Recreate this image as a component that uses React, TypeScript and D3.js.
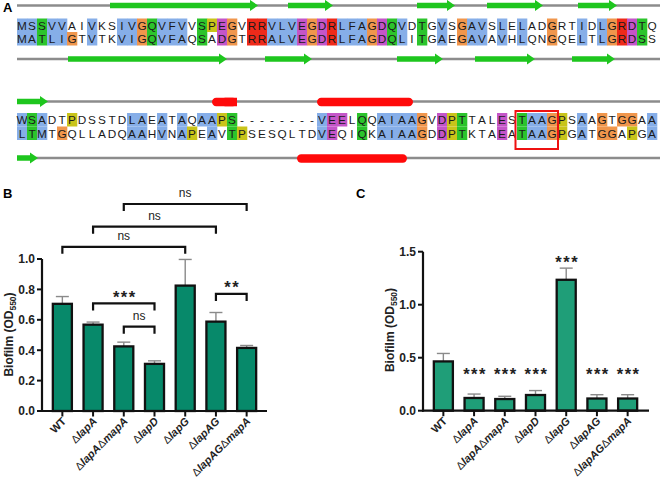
import React from "react";
import * as d3 from "d3";

// ---------- Panel A data ----------
const seqRow1 = "MSSVVAIVKSIVGQVFVVSPEGVRRVLVEGDRLFAGDQVDTGVSGAVSLELADGRTIDLGRDTQ";
const seqRow2 = "MATLIGTVTKVIGQVFAQSADGTRRALVEGDRLFAGDQLITGAEGAVAVHLQNGQELTLGRDSS";
const seqRow3 = "WSADTPDSSTDLAEATAQAAPS--------VEELQQAIAAGVDPTTALESTAAGPSAAGTGGAA";
const seqRow4 = "LTMTGQLLADQAAHVNAPEAVTPSESQLTDVEQIQKAIAAGDDPTKTAEATAAGPGATGGAPGA";

const clrRow1 = "bbgbb..b.." + "bbogbbb.gy" + "mo.rrbbbmo" + "mrbbbomgb." + "g.b.obb.b." + "b..o..b.bo" + "rmg.";
const clrRow2 = "bbgbbo.b.." + "bbogbbb.g." + "mo.rrbbbmo" + "mrbbbomgb." + "g.b.obb.b." + "b..o..b.bo" + "rmg.";
const clrRow3 = "bgb..y...." + ".bb.b.b.bb" + "yg........" + "bmm.g.bbbb" + "o.myg...m." + "gbboy.b.o." + "oo.b";
const clrRow4 = "bgb.o....." + ".bb.b.by.b" + ".gy......." + "bm..g.bbbb" + "o.myg...m." + "gbboy.b.oo" + ".y.b";

// secondary structure (residue boundaries, 0-based)
const ssTop1 = [
  { t: "E", s: 9.3, e: 24.1 },
  { t: "E", s: 27.1, e: 31.6 },
  { t: "E", s: 40, e: 43.8 },
  { t: "E", s: 47, e: 52.6 },
  { t: "E", s: 56.1, e: 60 },
];
const ssBot1 = [
  { t: "E", s: 5.1, e: 21 },
  { t: "E", s: 24.8, e: 29.5 },
  { t: "E", s: 38, e: 42.6 },
  { t: "E", s: 45.8, e: 51.8 },
  { t: "E", s: 55.5, e: 59.8 },
];
const ssTop2 = [
  { t: "E", s: 0, e: 3.1 },
  { t: "Hl", s: 19.5, e: 22 },
  { t: "H", s: 30, e: 39.6 },
];
const ssBot2 = [
  { t: "E", s: 0, e: 2.1 },
  { t: "H", s: 28, e: 39 },
];
const boxRange = [50, 54];

// ---------- Panels B, C data ----------
const strains = ["WT", "ΔlapA", "ΔlapAΔmapA", "ΔlapD", "ΔlapG", "ΔlapAG", "ΔlapAGΔmapA"];
const biofilmB = [0.705, 0.568, 0.425, 0.31, 0.825, 0.588, 0.415];
const errB = [0.048, 0.017, 0.028, 0.02, 0.172, 0.06, 0.016];
const ticksB = [0, 0.2, 0.4, 0.6, 0.8, 1.0];
const sigB = [
  { a: 2, b: 6, y: 1.362, label: "ns" },
  { a: 1, b: 5, y: 1.2125, label: "ns" },
  { a: 0, b: 4, y: 1.08, label: "ns" },
  { a: 1, b: 3, y: 0.708, label: "***" },
  { a: 2, b: 3, y: 0.555, label: "ns" },
  { a: 5, b: 6, y: 0.77, label: "**" },
];

const biofilmC = [0.465, 0.12, 0.11, 0.148, 1.235, 0.115, 0.115];
const errC = [0.075, 0.037, 0.026, 0.042, 0.11, 0.036, 0.036];
const ticksC = [0, 0.5, 1.0, 1.5];
const starsC = [
  { i: 1, y: 0.384 },
  { i: 2, y: 0.384 },
  { i: 3, y: 0.384 },
  { i: 4, y: 1.445 },
  { i: 5, y: 0.384 },
  { i: 6, y: 0.384 },
];

const FONT = "'Liberation Sans', Arial, Helvetica, sans-serif";
const colorMap: Record<string, string> = {
  b: "#86aee8",
  g: "#2cc42c",
  o: "#f0964c",
  m: "#c455c8",
  r: "#ee2a1a",
  y: "#c9c41a",
};

const xRes = d3.scaleLinear().domain([0, 64]).range([17, 657]);
const cellW = xRes(1) - xRes(0);

function SeqRow({ seq, clr, y, h }: { seq: string; clr: string; y: number; h: number }) {
  return (
    <g>
      {seq.split("").map((ch, i) => {
        const c = clr[i];
        return (
          <g key={i}>
            {c !== "." && colorMap[c] ? (
              <rect x={xRes(i)} y={y} width={cellW + 0.3} height={h} fill={colorMap[c]} />
            ) : null}
            <text
              x={xRes(i) + cellW / 2}
              y={y + h / 2 + 4.3}
              textAnchor="middle"
              fontSize={11.8}
              fontFamily={FONT}
              fill="#1a1a1a"
            >
              {ch}
            </text>
          </g>
        );
      })}
    </g>
  );
}

function SSLine({ items, y }: { items: { t: string; s: number; e: number }[]; y: number }) {
  return (
    <g>
      <line x1={xRes(0)} x2={660} y1={y} y2={y} stroke="#8c8c8c" strokeWidth={2.6} />
      {items.map((it, i) => {
        const x0 = xRes(it.s);
        const x1 = xRes(it.e);
        if (it.t === "E") {
          const hl = 8;
          const bh = 2.8;
          const ah = 5.6;
          const d = `M${x0},${y - bh}L${x1 - hl},${y - bh}L${x1 - hl},${y - ah}L${x1},${y}L${x1 - hl},${y + ah}L${x1 - hl},${y + bh}L${x0},${y + bh}Z`;
          return <path key={i} d={d} fill="#1ec61e" />;
        }
        const hh = 8.5;
        return (
          <g key={i}>
            <rect x={x0} y={y - hh / 2 + 0.5} width={x1 - x0} height={hh} rx={4.2} fill="#ff0a0a" />
            {it.t === "Hl" ? (
              <rect x={(x0 + x1) / 2} y={y - hh / 2 + 0.5} width={(x1 - x0) / 2} height={hh} fill="#ff0a0a" />
            ) : null}
          </g>
        );
      })}
    </g>
  );
}

function GeneLabel({ name }: { name: string }) {
  if (!name.includes("Δ")) return <>{name}</>;
  const parts: React.ReactNode[] = [];
  name.split("Δ").forEach((p, i) => {
    if (i > 0)
      parts.push(
        <tspan key={"d" + i} fontWeight="normal">
          Δ
        </tspan>
      );
    if (p)
      parts.push(
        <tspan key={"g" + i} fontStyle="italic">
          {p}
        </tspan>
      );
  });
  return <>{parts}</>;
}

function BarPanel(props: {
  values: number[];
  errs: number[];
  ticks: number[];
  yMax: number;
  yRange: [number, number];
  xRange: [number, number];
  axisX: number;
  axisEnd: number;
  fill: string;
  titleX: number;
  titleY: number;
}) {
  const { values, errs, ticks, yMax, yRange, xRange, axisX, axisEnd, fill, titleX, titleY } = props;
  const y = d3.scaleLinear().domain([0, yMax]).range(yRange);
  const x = d3.scaleBand<string>().domain(strains).range(xRange).paddingInner(0.38).paddingOuter(0.19);
  const y0 = y(0);
  return (
    <g fontFamily={FONT}>
      {strains.map((s, i) => {
        const bx = x(s)!;
        const bw = x.bandwidth();
        const cx = bx + bw / 2;
        const top = y(values[i]);
        const et = y(values[i] + errs[i]);
        return (
          <g key={s}>
            <line x1={cx} x2={cx} y1={top} y2={et} stroke="#8a8a8a" strokeWidth={1.4} />
            <line x1={cx - 6.5} x2={cx + 6.5} y1={et} y2={et} stroke="#8a8a8a" strokeWidth={1.4} />
            <rect x={bx} y={top} width={bw} height={y0 - top} fill={fill} stroke="#111" strokeWidth={2.3} />
          </g>
        );
      })}
      <line x1={axisX} x2={axisX} y1={y(0) + 1} y2={y(yMax)} stroke="#111" strokeWidth={2.2} />
      {ticks.map((t) => (
        <g key={t}>
          <line x1={axisX - 5} x2={axisX} y1={y(t)} y2={y(t)} stroke="#111" strokeWidth={2} />
          <text x={axisX - 7} y={y(t) + 4.3} textAnchor="end" fontSize={12} fontWeight="bold" fill="#222">
            {d3.format(".1f")(t)}
          </text>
        </g>
      ))}
      <line x1={axisX - 1} x2={axisEnd} y1={y0} y2={y0} stroke="#111" strokeWidth={2.2} />
      {strains.map((s) => {
        const cx = x(s)! + x.bandwidth() / 2;
        return (
          <g key={s}>
            <line x1={cx} x2={cx} y1={y0} y2={y0 + 5.5} stroke="#111" strokeWidth={2} />
            <text
              transform={`translate(${cx + 4.5},${y0 + 11}) rotate(-45)`}
              textAnchor="end"
              fontSize={11}
              fontWeight="bold"
              fill="#222"
            >
              <GeneLabel name={s} />
            </text>
          </g>
        );
      })}
      <text
        transform={`translate(${titleX},${titleY}) rotate(-90)`}
        textAnchor="middle"
        fontSize={12}
        fontWeight="bold"
        fill="#222"
      >
        Biofilm (OD
        <tspan fontSize={8.5} dy={3}>
          550
        </tspan>
        <tspan dy={-3}>)</tspan>
      </text>
    </g>
  );
}

export default function App() {
  const yB = d3.scaleLinear().domain([0, 1]).range([411, 259]);
  const xB = d3.scaleBand<string>().domain(strains).range([47, 262]).paddingInner(0.38).paddingOuter(0.19);
  const cB = (i: number) => xB(strains[i])! + xB.bandwidth() / 2;
  const yC = d3.scaleLinear().domain([0, 1.5]).range([410.7, 251.7]);
  const xC = d3.scaleBand<string>().domain(strains).range([428, 643]).paddingInner(0.38).paddingOuter(0.19);
  const cC = (i: number) => xC(strains[i])! + xC.bandwidth() / 2;

  const r1y = 18.5, rh = 13.5;
  const r3y = 113;

  return (
    <>
      <style>{"body{margin:0}"}</style>
      <svg
        width={660}
        height={488}
        viewBox="0 0 660 488"
        style={{ display: "block", position: "absolute", left: 0, top: 0, background: "#fff" }}
      >
        <rect width={660} height={488} fill="#fff" />
        <text x={3} y={12} fontSize={13} fontWeight="bold" fontFamily={FONT}>
          A
        </text>
        <SSLine items={ssTop1} y={5.5} />
        <SeqRow seq={seqRow1} clr={clrRow1} y={r1y} h={rh} />
        <SeqRow seq={seqRow2} clr={clrRow2} y={r1y + rh} h={rh} />
        <SSLine items={ssBot1} y={59} />

        <SSLine items={ssTop2} y={101.5} />
        <SeqRow seq={seqRow3} clr={clrRow3} y={r3y} h={rh} />
        <SeqRow seq={seqRow4} clr={clrRow4} y={r3y + rh} h={rh} />
        <SSLine items={ssBot2} y={158} />
        <rect
          x={xRes(boxRange[0]) - 1.5}
          y={111}
          width={xRes(boxRange[1]) - xRes(boxRange[0]) + 2.5}
          height={38}
          fill="none"
          stroke="#ee1111"
          strokeWidth={2}
        />

        <text x={3} y={198} fontSize={13} fontWeight="bold" fontFamily={FONT}>
          B
        </text>
        <BarPanel
          values={biofilmB}
          errs={errB}
          ticks={ticksB}
          yMax={1}
          yRange={[411, 259]}
          xRange={[47, 262]}
          axisX={42}
          axisEnd={267}
          fill="#07896a"
          titleX={12.5}
          titleY={334.5}
        />
        {sigB.map((s, i) => {
          const x1 = cB(s.a);
          const x2 = cB(s.b);
          const yy = yB(s.y);
          const isStar = s.label.includes("*");
          return (
            <g key={i} fontFamily={FONT}>
              <path
                d={`M${x1},${yy + 7}L${x1},${yy}L${x2},${yy}L${x2},${yy + 7}`}
                fill="none"
                stroke="#111"
                strokeWidth={2.2}
              />
              <text
                x={(x1 + x2) / 2 + (isStar ? 1 : 0)}
                y={isStar ? yy - 0.5 : yy - 7}
                textAnchor="middle"
                fontSize={isStar ? 16.5 : 12}
                fontWeight={isStar ? "bold" : "normal"}
                letterSpacing={isStar ? 1.5 : 0}
                fill="#222"
              >
                {s.label}
              </text>
            </g>
          );
        })}

        <text x={356} y={198} fontSize={13} fontWeight="bold" fontFamily={FONT}>
          C
        </text>
        <BarPanel
          values={biofilmC}
          errs={errC}
          ticks={ticksC}
          yMax={1.5}
          yRange={[410.7, 251.7]}
          xRange={[428, 643]}
          axisX={423}
          axisEnd={649}
          fill="#1f9e78"
          titleX={393.5}
          titleY={330}
        />
        {starsC.map((s, i) => (
          <text
            key={i}
            x={cC(s.i) + 1}
            y={yC(s.y) + 10}
            textAnchor="middle"
            fontSize={16.5}
            fontWeight="bold"
            letterSpacing={1.5}
            fontFamily={FONT}
            fill="#222"
          >
            ***
          </text>
        ))}
      </svg>
    </>
  );
}
